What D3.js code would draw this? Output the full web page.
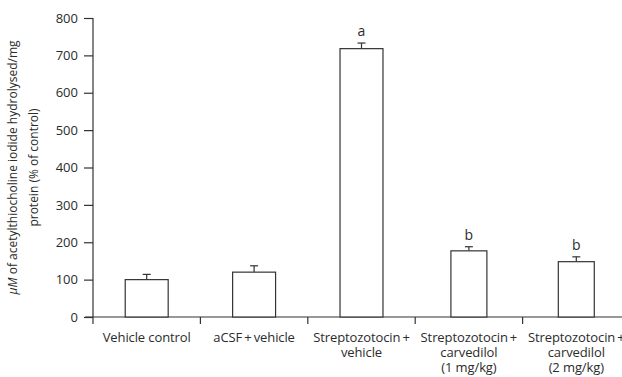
<!DOCTYPE html>
<html>
<head>
<meta charset="utf-8">
<script src="https://cdn.jsdelivr.net/npm/d3@7"></script>
<style>
  body { margin: 0; background: #fff; }
  svg text { font-family: "Open Sans", "Noto Sans", sans-serif; fill: #2b2b2b; }
</style>
</head>
<body>
<div class="grafico"></div>
<script>
/* datos */
const groups = ['vc', 'acsf', 'stz', 'stz1', 'stz2'];
const groupLabels = [
  ['Vehicle control'],
  ['aCSF\u2009+\u2009vehicle'],
  ['Streptozotocin\u2009+', 'vehicle'],
  ['Streptozotocin\u2009+', 'carvedilol', '(1 mg/kg)'],
  ['Streptozotocin\u2009+', 'carvedilol', '(2 mg/kg)']
];
const means = [100, 120, 718, 177, 148];
const errors = [14, 17, 15, 11, 13];
const marks = ['', '', 'a', 'b', 'b'];
const yTicks = [0, 100, 200, 300, 400, 500, 600, 700, 800];

/* medidas */
const w = 622, h = 377;
const mLeft = 93, mTop = 18, mBottom = 317;
const bandW = 107.4;
const barFrac = [0.4, 0.4, 0.4, 0.335, 0.335];
const ink = '#333';

const svg = d3.select('.grafico').append('svg')
  .attr('width', w).attr('height', h);

const x = d3.scaleBand().domain(groups)
  .range([mLeft, mLeft + bandW * groups.length]).padding(0);
const y = d3.scaleLinear().domain([0, 800]).range([mBottom, mTop]);

/* eje Y */
const yAxis = svg.append('g')
  .attr('transform', `translate(${mLeft},0)`)
  .call(d3.axisLeft(y).tickValues(yTicks).tickSize(9).tickPadding(6))
yAxis.select('.domain').remove();
yAxis.selectAll('line').attr('stroke', ink).attr('stroke-width', 1.2);
yAxis.selectAll('text').attr('font-size', 13).style('font-family', '"Open Sans", sans-serif').attr('fill', '#2b2b2b');
svg.append('line')
  .attr('x1', mLeft).attr('x2', mLeft)
  .attr('y1', y(800)).attr('y2', mBottom + 7)
  .attr('stroke', ink).attr('stroke-width', 1.2);

/* eje X */
svg.append('line')
  .attr('x1', mLeft - 8).attr('x2', w)
  .attr('y1', mBottom).attr('y2', mBottom)
  .attr('stroke', ink).attr('stroke-width', 1.2);
svg.selectAll('.xtick')
  .data(groups.slice(1))
  .join('line')
  .attr('class', 'xtick')
  .attr('x1', d => x(d)).attr('x2', d => x(d))
  .attr('y1', mBottom).attr('y2', mBottom + 7)
  .attr('stroke', ink).attr('stroke-width', 1.2);

/* barras */
const bars = svg.selectAll('.bar')
  .data(groups)
  .join('g')
  .attr('class', 'bar');

const cx = d => x(d) + x.bandwidth() / 2;

bars.append('line')
  .attr('x1', d => cx(d)).attr('x2', d => cx(d))
  .attr('y1', (d, i) => y(means[i])).attr('y2', (d, i) => y(means[i] + errors[i]))
  .attr('stroke', ink).attr('stroke-width', 1.2);
bars.append('line')
  .attr('x1', d => cx(d) - 4).attr('x2', d => cx(d) + 4)
  .attr('y1', (d, i) => y(means[i] + errors[i])).attr('y2', (d, i) => y(means[i] + errors[i]))
  .attr('stroke', ink).attr('stroke-width', 1.2);
bars.append('rect')
  .attr('x', (d, i) => cx(d) - x.bandwidth() * barFrac[i] / 2)
  .attr('width', (d, i) => x.bandwidth() * barFrac[i])
  .attr('y', (d, i) => y(means[i]))
  .attr('height', (d, i) => mBottom - y(means[i]))
  .attr('fill', '#fff')
  .attr('stroke', ink).attr('stroke-width', 1.2);
bars.append('text')
  .attr('x', d => cx(d))
  .attr('y', (d, i) => y(means[i] + errors[i]) - 7)
  .attr('text-anchor', 'middle')
  .attr('font-size', 14)
  .text((d, i) => marks[i]);

/* etiquetas X */
svg.selectAll('.xlab')
  .data(groups)
  .join('text')
  .attr('class', 'xlab')
  .attr('text-anchor', 'middle')
  .attr('font-size', 13)
  .attr('letter-spacing', -0.1)
  .selectAll('tspan')
  .data((d, i) => groupLabels[i].map(t => ({ t, c: cx(d) })))
  .join('tspan')
  .attr('x', d => d.c)
  .attr('y', (d, i) => 342 + i * 15)
  .text(d => d.t);

/* título eje Y */
const yl = svg.append('text')
  .attr('transform', `translate(0,${(mTop + mBottom) / 2}) rotate(-90)`)
  .attr('text-anchor', 'middle')
  .attr('font-size', 12);
const l1 = yl.append('tspan').attr('x', 0).attr('y', 17);
l1.append('tspan').attr('font-style', 'italic').text('\u03bcM');
l1.append('tspan').text(' of acetylthiocholine iodide hydrolysed/mg');
yl.append('tspan').attr('x', 0).attr('y', 38).text('protein (% of control)');
</script>
</body>
</html>
